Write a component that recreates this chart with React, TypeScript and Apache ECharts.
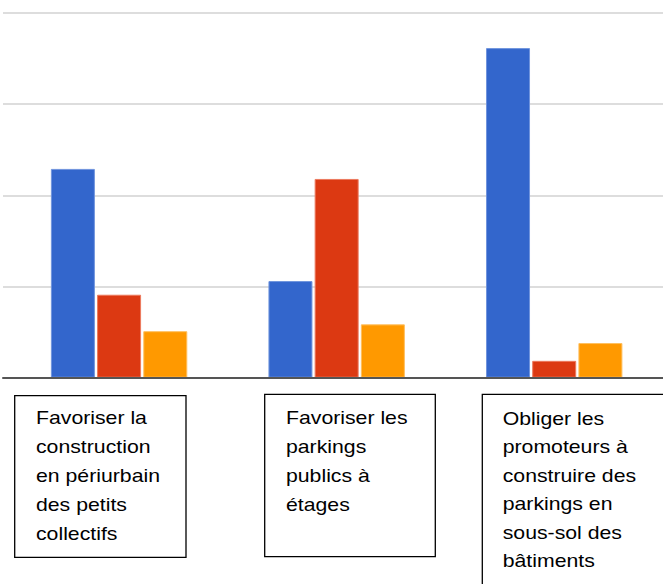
import React, { useEffect, useRef } from "react";
import * as echarts from "echarts";

const categories = [
  "Favoriser la\nconstruction\nen périurbain\ndes petits\ncollectifs",
  "Favoriser les\nparkings\npublics à\nétages",
  "Obliger les\npromoteurs à\nconstruire des\nparkings en\nsous-sol des\nbâtiments",
];
const blueValues = [22.9, 10.6, 36.15];
const redValues = [9.1, 21.8, 1.85];
const orangeValues = [5.1, 5.85, 3.8];
const yMax = 40;
const yInterval = 10;

export default function App() {
  const ref = useRef<HTMLDivElement>(null);
  useEffect(() => {
    if (!ref.current) return;
    const chart = echarts.init(ref.current, null, { renderer: "svg" });
    const barCommon = {
      type: "bar" as const,
      xAxisIndex: 1,
      yAxisIndex: 1,
      barWidth: 44,
      barGap: "5%",
      itemStyle: { borderWidth: 1 },
    };
    const textStyleBase = {
      fontSize: 17.7,
      fontFamily: "'Liberation Sans', Arial, sans-serif",
      fill: "#000",
      align: "left",
      verticalAlign: "top",
    };
    chart.setOption({
      animation: false,
      backgroundColor: "#fff",
      grid: [
        { left: 3, top: 13, width: 680, height: 364.7, containLabel: false },
        { left: 10.3, top: 13, width: 658, height: 364.7, containLabel: false },
      ],
      xAxis: [
        {
          type: "value",
          gridIndex: 0,
          min: 0,
          max: 1,
          z: 5,
          axisLine: { show: true, onZero: false, lineStyle: { color: "#555", width: 2 } },
          axisTick: { show: false },
          axisLabel: { show: false },
          splitLine: { show: false },
        },
        {
          type: "category",
          gridIndex: 1,
          data: categories,
          axisLine: { show: false },
          axisTick: { show: false },
          axisLabel: { show: false },
        },
      ],
      yAxis: [
        {
          type: "value",
          gridIndex: 0,
          min: 0,
          max: yMax,
          interval: yInterval,
          axisLine: { show: false },
          axisTick: { show: false },
          axisLabel: { show: false },
          splitLine: { show: true, lineStyle: { color: "#d2d2d2", width: 1.6 } },
        },
        {
          type: "value",
          gridIndex: 1,
          min: 0,
          max: yMax,
          interval: yInterval,
          axisLine: { show: false },
          axisTick: { show: false },
          axisLabel: { show: false },
          splitLine: { show: false },
        },
      ],
      series: [
        { ...barCommon, name: "A", data: blueValues, itemStyle: { color: "#3366cc", borderColor: "#7094dd", borderWidth: 1 } },
        { ...barCommon, name: "B", data: redValues, itemStyle: { color: "#dc3912", borderColor: "#ec7a5e", borderWidth: 1 } },
        { ...barCommon, name: "C", data: orangeValues, itemStyle: { color: "#ff9900", borderColor: "#ffbf5e", borderWidth: 1 } },
      ],
      graphic: [
        {
          type: "rect",
          shape: { x: 14.7, y: 395.7, width: 171.3, height: 161.6 },
          style: { fill: "none", stroke: "#000", lineWidth: 1.3 },
        },
        {
          type: "rect",
          shape: { x: 264.7, y: 394.3, width: 170.6, height: 162.4 },
          style: { fill: "none", stroke: "#000", lineWidth: 1.3 },
        },
        {
          type: "rect",
          shape: { x: 482.3, y: 394.3, width: 220, height: 250 },
          style: { fill: "none", stroke: "#000", lineWidth: 1.3 },
        },
        {
          type: "text",
          x: 36,
          y: 403.5,
          scaleX: 1.2,
          style: { ...textStyleBase, text: categories[0], lineHeight: 29 },
        },
        {
          type: "text",
          x: 286,
          y: 403.5,
          scaleX: 1.2,
          style: { ...textStyleBase, text: categories[1], lineHeight: 29 },
        },
        {
          type: "text",
          x: 502.7,
          y: 404,
          scaleX: 1.2,
          style: { ...textStyleBase, text: categories[2], lineHeight: 28.5 },
        },
      ],
    });
    return () => chart.dispose();
  }, []);
  return (
    <div
      ref={ref}
      style={{ position: "absolute", left: 0, top: 0, width: 663, height: 584, overflow: "hidden" }}
    />
  );
}
